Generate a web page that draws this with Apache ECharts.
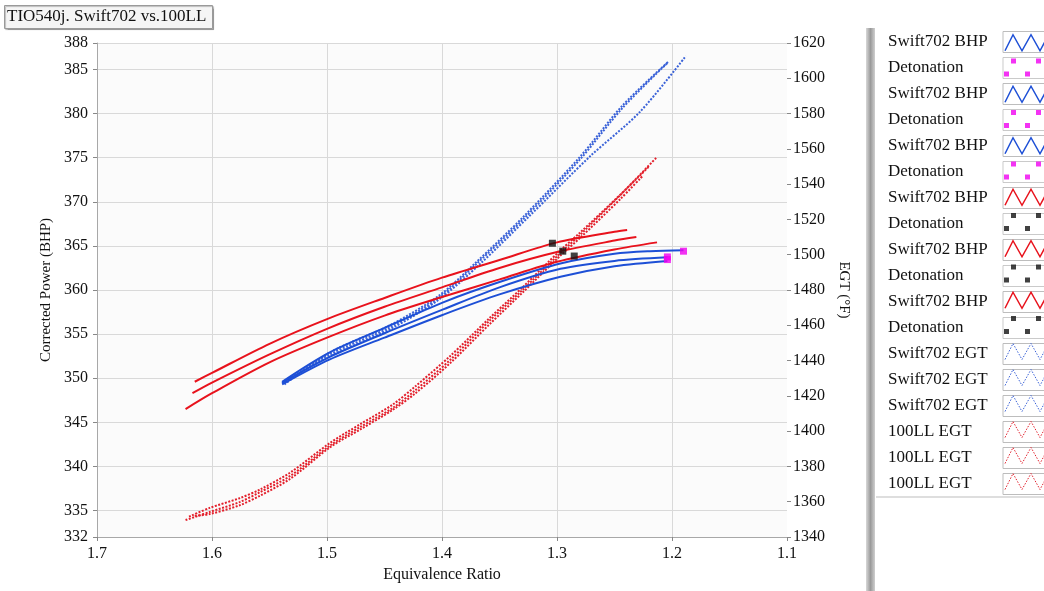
<!DOCTYPE html>
<html><head><meta charset="utf-8">
<script src="https://cdn.jsdelivr.net/npm/echarts@6/dist/echarts.min.js"></script>
<style>html,body{margin:0;padding:0;background:#fff}#c{width:1044px;height:591px}</style>
</head><body><div id="c"></div>
<script>
const FONT = '"Liberation Serif", "Times New Roman", serif';
const titleText = 'TIO540j. Swift702 vs.100LL';
const xAxisName = 'Equivalence Ratio';
const leftAxisName = 'Corrected Power (BHP)';
const rightAxisName = 'EGT (°F)';
const leftTicks = [332, 335, 340, 345, 350, 355, 360, 365, 370, 375, 380, 385, 388];

// Swift702 BHP (blue, left axis) : [equivalence ratio, BHP]
const swiftBhp1 = [[1.539,349.6],[1.498,352.9],[1.450,355.7],[1.399,358.6],[1.350,360.9],[1.297,363.0],[1.250,364.1],[1.219,364.4],[1.190,364.5]];
const swiftBhp2 = [[1.539,349.5],[1.498,352.4],[1.450,355.1],[1.399,357.8],[1.350,360.3],[1.297,362.4],[1.250,363.3],[1.204,363.7]];
const swiftBhp3 = [[1.539,349.3],[1.498,352.1],[1.450,354.6],[1.399,357.2],[1.350,359.5],[1.297,361.5],[1.250,362.7],[1.204,363.3]];
// BHP labelled "Swift702 BHP" but drawn red (100LL runs)
const redBhp1 = [[1.615,349.6],[1.600,350.6],[1.550,353.9],[1.500,356.7],[1.450,359.1],[1.400,361.4],[1.350,363.4],[1.300,365.4],[1.250,366.6],[1.239,366.8]];
const redBhp2 = [[1.617,348.3],[1.600,349.5],[1.550,352.7],[1.500,355.6],[1.450,358.1],[1.400,360.3],[1.350,362.5],[1.300,364.3],[1.250,365.6],[1.231,366.0]];
const redBhp3 = [[1.623,346.5],[1.600,348.3],[1.550,351.8],[1.500,354.6],[1.450,357.1],[1.400,359.2],[1.350,361.2],[1.300,363.2],[1.250,364.6],[1.213,365.4]];
// Detonation points
const detMag1 = [[1.190,364.4]];
const detMag2 = [[1.204,363.75]];
const detMag3 = [[1.204,363.45]];
const detBlk1 = [[1.304,365.3]];
const detBlk2 = [[1.295,364.4]];
const detBlk3 = [[1.285,363.85]];
// EGT (right axis) : [equivalence ratio, EGT °F]
const swiftEgt1 = [[1.539,1427.3],[1.497,1442.6],[1.445,1457.9],[1.402,1474.9],[1.367,1494.7],[1.324,1521.9],[1.271,1555.9],[1.228,1580.9],[1.188,1612.6]];
const swiftEgt2 = [[1.539,1427.3],[1.497,1443.7],[1.445,1459.0],[1.402,1476.0],[1.371,1494.2],[1.330,1519.7],[1.280,1554.0],[1.243,1583.2],[1.204,1608.7]];
const swiftEgt3 = [[1.537,1426.5],[1.497,1444.8],[1.445,1460.1],[1.402,1477.1],[1.371,1495.3],[1.330,1521.0],[1.280,1555.5],[1.243,1584.6],[1.203,1609.5]];
const llEgt1 = [[1.623,1349.6],[1.602,1354.2],[1.576,1359.8],[1.558,1365.5],[1.532,1374.6],[1.497,1392.0],[1.471,1402.4],[1.443,1413.1],[1.423,1423.3],[1.393,1440.3],[1.358,1463.0],[1.330,1480.0],[1.297,1501.0],[1.280,1511.2],[1.245,1533.8],[1.213,1555.4]];
const llEgt2 = [[1.620,1351.5],[1.602,1356.5],[1.576,1362.0],[1.558,1367.0],[1.532,1376.5],[1.497,1393.5],[1.471,1404.0],[1.443,1415.0],[1.423,1425.5],[1.393,1442.5],[1.358,1464.5],[1.330,1481.5],[1.297,1502.5],[1.280,1512.5],[1.245,1534.0],[1.220,1550.0]];
const llEgt3 = [[1.615,1352.0],[1.602,1353.0],[1.576,1358.0],[1.558,1363.5],[1.532,1373.0],[1.497,1391.0],[1.471,1401.0],[1.443,1412.0],[1.423,1421.5],[1.393,1438.5],[1.358,1461.0],[1.330,1478.5],[1.297,1499.5],[1.280,1509.5],[1.245,1531.5],[1.225,1545.0]];

const BLUE = '#1d4fd6', RED = '#e8121c', MAG = '#f000f0', BLK = '#111111';
const EGT_BLUE = '#3a62d8', EGT_RED = '#e3202c';

const defs = [
  {name:'Swift702 BHP#1', data:swiftBhp1, kind:'bhp', color:BLUE},
  {name:'Detonation#1', data:detMag1, kind:'det', color:MAG},
  {name:'Swift702 BHP#2', data:swiftBhp2, kind:'bhp', color:BLUE},
  {name:'Detonation#2', data:detMag2, kind:'det', color:MAG},
  {name:'Swift702 BHP#3', data:swiftBhp3, kind:'bhp', color:BLUE},
  {name:'Detonation#3', data:detMag3, kind:'det', color:MAG},
  {name:'Swift702 BHP#4', data:redBhp1, kind:'bhp', color:RED},
  {name:'Detonation#4', data:detBlk1, kind:'det', color:BLK},
  {name:'Swift702 BHP#5', data:redBhp2, kind:'bhp', color:RED},
  {name:'Detonation#5', data:detBlk2, kind:'det', color:BLK},
  {name:'Swift702 BHP#6', data:redBhp3, kind:'bhp', color:RED},
  {name:'Detonation#6', data:detBlk3, kind:'det', color:BLK},
  {name:'Swift702 EGT#1', data:swiftEgt1, kind:'egt', color:EGT_BLUE},
  {name:'Swift702 EGT#2', data:swiftEgt2, kind:'egt', color:EGT_BLUE},
  {name:'Swift702 EGT#3', data:swiftEgt3, kind:'egt', color:EGT_BLUE},
  {name:'100LL EGT#1', data:llEgt1, kind:'egt', color:EGT_RED},
  {name:'100LL EGT#2', data:llEgt2, kind:'egt', color:EGT_RED},
  {name:'100LL EGT#3', data:llEgt3, kind:'egt', color:EGT_RED}
];

const ZIG = 'path://M0,0 M44,21 M2,19 L10,3 L19,19 L28,3 L37,19 L44,6';
const SQS = 'path://M0,0 M44,21 M8,1h5v5h-5z M33,1h5v5h-5z M1,14h5v5h-5z M22,14h5v5h-5z';

const series = defs.map(d => {
  if (d.kind === 'det') {
    return {name:d.name, type:'scatter', yAxisIndex:0, data:d.data, symbol:'rect', symbolSize:7,
      itemStyle:{color:d.color}, z:10};
  }
  const egt = d.kind === 'egt';
  return {name:d.name, type:'line', yAxisIndex: egt ? 1 : 0, data:d.data, symbol:'none', smooth:0.3,
    lineStyle:{color:d.color, width:2, type: egt ? [2,1.5] : 'solid'}, itemStyle:{color:d.color}, z: egt ? 3 : 5};
});

const legendFmt = n => '{t|' + n.split('#')[0] + '}';
const legendBase = {
  orient:'vertical', left:888, top:31, padding:0, itemGap:4, itemWidth:44, itemHeight:21,
  align:'right', selectedMode:false, formatter:legendFmt
};
const legendBoxes = Object.assign({}, legendBase, {
  data: defs.map(d => ({name:d.name, icon:'rect', itemStyle:{color:'#ffffff', borderColor:'#bdbdbd', borderWidth:1}})),
  textStyle:{rich:{t:{width:110, align:'left', fontFamily:FONT, fontSize:17, color:'#111', lineHeight:20}}}
});
const legendIcons = Object.assign({}, legendBase, {
  data: defs.map(d => {
    if (d.kind === 'det') return {name:d.name, icon:SQS, itemStyle:{color:d.color, borderWidth:0}};
    if (d.kind === 'egt') return {name:d.name, icon:ZIG, itemStyle:{color:'rgba(0,0,0,0)', borderColor:d.color, borderWidth:1, borderType:[1.5,1.5]}};
    return {name:d.name, icon:ZIG, itemStyle:{color:'rgba(0,0,0,0)', borderColor:d.color, borderWidth:1.5, borderType:'solid'}};
  }),
  textStyle:{rich:{t:{width:110, align:'left', fontFamily:FONT, fontSize:17, color:'rgba(0,0,0,0)', lineHeight:20}}}
});

const chart = echarts.init(document.getElementById('c'), null, {renderer:'canvas'});
chart.setOption({
  animation:false,
  backgroundColor:'#ffffff',
  title:{text:titleText, left:4, top:5, padding:[3,6,4,3], backgroundColor:'#f5f5f5', borderColor:'#9a9a9a', borderWidth:1,
    shadowColor:'rgba(0,0,0,0.25)', shadowOffsetX:1, shadowOffsetY:1, shadowBlur:1,
    textStyle:{fontFamily:FONT, fontSize:17, fontWeight:'normal', color:'#111'}},
  grid:{left:97, right:257, top:43, bottom:54, show:true, backgroundColor:'#fbfbfb', borderWidth:0, outerBoundsMode:'none'},
  legend:[legendBoxes, legendIcons],
  xAxis:{type:'value', inverse:true, min:1.1, max:1.7, interval:0.1,
    name:xAxisName, nameLocation:'middle', nameGap:29, nameTextStyle:{fontFamily:FONT, fontSize:16, color:'#111'},
    axisLine:{show:true, lineStyle:{color:'#a8a8a8'}},
    axisTick:{show:true, length:4, lineStyle:{color:'#888'}},
    axisLabel:{fontFamily:FONT, fontSize:16, color:'#111', margin:9, formatter:v => v.toFixed(1)},
    splitLine:{show:true, showMinLine:false, lineStyle:{color:'#d9d9d9'}}},
  yAxis:[
    {type:'value', min:332, max:388, position:'left',
      name:leftAxisName, nameLocation:'middle', nameGap:36, nameTextStyle:{fontFamily:FONT, fontSize:15, color:'#111'},
      axisLine:{show:true, lineStyle:{color:'#a8a8a8'}},
      axisTick:{show:true, length:4, customValues:leftTicks, lineStyle:{color:'#888'}},
      axisLabel:{fontFamily:FONT, fontSize:16, color:'#111', margin:9, customValues:leftTicks},
      splitLine:{show:true, lineStyle:{color:'#d9d9d9'}}},
    {type:'value', min:1340, max:1620, interval:20, position:'right',
      name:rightAxisName, nameLocation:'middle', nameRotate:-90, nameGap:49, nameTextStyle:{fontFamily:FONT, fontSize:15, color:'#111'},
      axisLine:{show:false},
      axisTick:{show:true, length:4, lineStyle:{color:'#888'}},
      axisLabel:{fontFamily:FONT, fontSize:16, color:'#111', margin:6, formatter:v => String(v)},
      splitLine:{show:false}}
  ],
  graphic:[
    {type:'rect', left:866, top:28, shape:{width:9, height:563},
      style:{fill:new echarts.graphic.LinearGradient(0,0,1,0,[{offset:0,color:'#d8d8d8'},{offset:0.5,color:'#9a9a9a'},{offset:1,color:'#cfcfcf'}])}, silent:true},
    {type:'line', shape:{x1:876, y1:497, x2:1044, y2:497}, style:{stroke:'#bdbdbd', lineWidth:1}, silent:true}
  ],
  series:series
});
</script></body></html>
